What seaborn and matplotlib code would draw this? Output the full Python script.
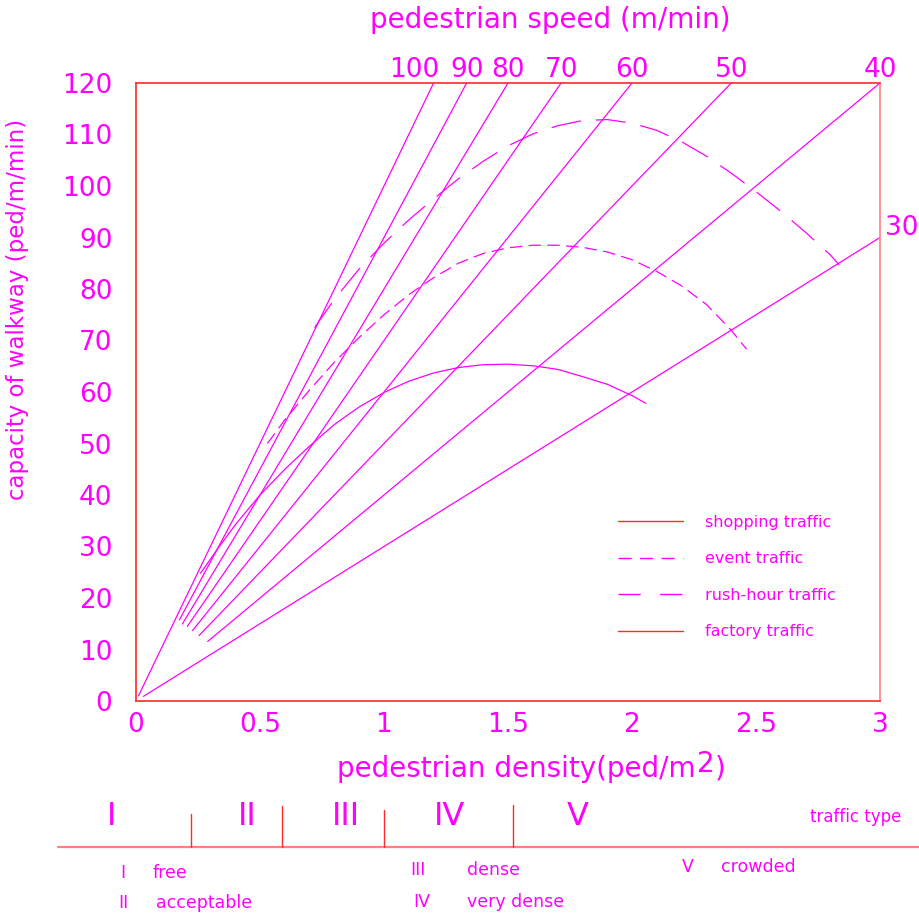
"""
Walkway capacity vs pedestrian density, with speed rays and traffic-type bands.
"""

import matplotlib
matplotlib.use("Agg")
import matplotlib.pyplot as plt
import pandas as pd
import seaborn as sns
from matplotlib.lines import Line2D

# ── Data ────────────────────────────────────────────────────────────────────
SPEEDS      = [100, 90, 80, 70, 60, 50, 40, 30]            # m/min
SPEED_START = [0.01, 0.175, 0.187, 0.207, 0.228, 0.254, 0.289, 0.03]  # ped/m2

SHOP_DENS = [0.26, 0.336, 0.4, 0.5, 0.6, 0.7, 0.8, 0.9, 1.0, 1.1, 1.2, 1.3,
             1.4, 1.5, 1.6, 1.7, 1.8, 1.9, 2.0, 2.056]
SHOP_CAP  = [24.8, 30.0, 34.2, 40.0, 45.0, 49.5, 53.7, 57.1, 59.9, 62.1, 63.7,
             64.75, 65.3, 65.4, 65.1, 64.4, 63.0, 61.5, 59.3, 57.8]

EVENT_DENS = [0.53, 0.6, 0.7, 0.8, 0.9, 1.0, 1.1, 1.2, 1.3, 1.4, 1.5, 1.6,
              1.7, 1.8, 1.9, 2.0, 2.1, 2.2, 2.3, 2.4, 2.462]
EVENT_CAP  = [50.0, 54.6, 60.4, 65.8, 70.6, 75.0, 78.9, 82.2, 85.0, 86.9,
              88.0, 88.5, 88.5, 88.1, 87.2, 85.7, 83.4, 80.6, 77.0, 72.0, 68.3]

RUSH_DENS = [0.72, 0.8, 0.9, 1.0, 1.1, 1.2, 1.3, 1.4, 1.5, 1.6, 1.7, 1.8,
             1.9, 2.0, 2.1, 2.2, 2.3, 2.4, 2.5, 2.6, 2.7, 2.8, 2.835]
RUSH_CAP  = [72.5, 78.0, 83.9, 88.9, 93.4, 97.5, 101.4, 104.8, 107.8, 110.1,
             111.7, 112.7, 112.9, 112.2, 110.8, 108.6, 105.8, 102.5, 98.9,
             95.1, 91.0, 86.6, 84.7]

LEGEND_LABELS = ["shopping traffic", "event traffic", "rush-hour traffic", "factory traffic"]

CLASS_BOUNDS = [0.22, 0.59, 1.0, 1.52]                     # ped/m2
CLASS_NAMES  = ["I", "II", "III", "IV", "V"]
CLASS_DESC   = ["free", "acceptable", "dense", "very dense", "crowded"]

# ── Style ───────────────────────────────────────────────────────────────────
MAGENTA = "#FF00FF"
RED     = "#FF2A2A"
SALMON  = "#FF8080"
W, H    = 920, 917

sns.set_style("white")
plt.rcParams["font.family"] = ["DejaVu Sans"]

fig = plt.figure(figsize=(W / 100, H / 100), dpi=100)
ax = fig.add_axes([136 / W, 1 - 701 / H, 744 / W, 618 / H])

# speed rays: capacity = speed * density, up to the frame
rows = []
for v, d0 in zip(SPEEDS, SPEED_START):
    d1 = min(120 / v, 3)
    for d in (d0, d1):
        rows.append({"speed": v, "density": d, "capacity": v * d})
rays = pd.DataFrame(rows)
sns.lineplot(data=rays, x="density", y="capacity", units="speed",
             estimator=None, sort=False, color=MAGENTA, lw=0.9, ax=ax)

shop  = pd.DataFrame({"density": SHOP_DENS, "capacity": SHOP_CAP})
event = pd.DataFrame({"density": EVENT_DENS, "capacity": EVENT_CAP})
rush  = pd.DataFrame({"density": RUSH_DENS, "capacity": RUSH_CAP})
sns.lineplot(data=shop, x="density", y="capacity", sort=False,
             color=MAGENTA, lw=0.9, ax=ax)
sns.lineplot(data=event, x="density", y="capacity", sort=False,
             color=MAGENTA, lw=0.9, ls=(0, (10, 5)), ax=ax)
sns.lineplot(data=rush, x="density", y="capacity", sort=False,
             color=MAGENTA, lw=0.9, ls=(0, (24, 12)), ax=ax)

ax.set_xlim(0, 3)
ax.set_ylim(0, 120)
ax.set_xticks([0, 0.5, 1, 1.5, 2, 2.5, 3])
ax.set_xticklabels(["0", "0.5", "1", "1.5", "2", "2.5", "3"])
ax.set_yticks(range(0, 121, 10))
ax.tick_params(axis="both", direction="in", length=6, width=1, color=RED,
               labelcolor=MAGENTA, labelsize=19)
ax.tick_params(axis="y", pad=17)
ax.tick_params(axis="x", pad=8)
for side in ("left", "bottom", "top"):
    ax.spines[side].set_color(RED)
ax.spines["right"].set_color(SALMON)
for sp in ax.spines.values():
    sp.set_linewidth(1.2)

ax.set_xlabel("")
ax.set_ylabel("capacity of walkway (ped/m/min)", color=MAGENTA, fontsize=16.5)
ax.yaxis.set_label_coords(-0.144, 0.634)

# speed labels at the ends of the rays
for v in SPEEDS:
    d1 = min(120 / v, 3)
    if v == 30:
        off, ha, va = (3.5, 7), "left", "center"
    elif v == 100:
        off, ha, va = (-14, 4.5), "center", "baseline"
    else:
        off, ha, va = (0, 4.5), "center", "baseline"
    ax.annotate(str(v), xy=(d1, v * d1), xytext=off, textcoords="offset points",
                ha=ha, va=va, color=MAGENTA, fontsize=19, annotation_clip=False)

fig.text(550 / W, 1 - 20 / H, "pedestrian speed (m/min)", color=MAGENTA,
         fontsize=20, ha="center", va="center")

# x label with a raised 2
fig.canvas.draw()
renderer = fig.canvas.get_renderer()
base = 1 - 777 / H
t1 = fig.text(337 / W, base, "pedestrian density(ped/m", color=MAGENTA,
              fontsize=20, va="baseline")
x1 = t1.get_window_extent(renderer).x1 / W
t2 = fig.text(x1 + 1 / W, base + 5 / H, "2", color=MAGENTA, fontsize=20, va="baseline")
x2 = t2.get_window_extent(renderer).x1 / W
fig.text(x2 + 1 / W, base, ")", color=MAGENTA, fontsize=20, va="baseline")

# legend
handles = [
    Line2D([], [], color=RED, lw=1),
    Line2D([], [], color=MAGENTA, lw=1, ls=(0, (9.5, 6))),
    Line2D([], [], color=MAGENTA, lw=1, ls=(0, (16, 14))),
    Line2D([], [], color=RED, lw=1),
]
ax.legend(handles, LEGEND_LABELS, loc="upper left", bbox_to_anchor=(0.639, 0.312),
          frameon=False, fontsize=11.5, labelcolor=MAGENTA, handlelength=4.1,
          handletextpad=1.35, labelspacing=1.35, borderaxespad=0)

# ── Traffic-type band below the chart (pixel rows, density columns) ─────────
bx = fig.add_axes([136 / W, 0, 744 / W, 130 / H])
bx.set_xlim(0, 3)
bx.set_ylim(917, 787)
bx.axis("off")
bx.plot([-0.315, 3.17], [847, 847], color=SALMON, lw=1.6, clip_on=False)
tick_tops = [814, 806, 810, 805]
for b, top in zip(CLASS_BOUNDS, tick_tops):
    bx.plot([b, b], [847, top], color=RED, lw=1, clip_on=False)

name_x = [-0.097, 0.448, 0.847, 1.266, 1.782]
for name, x in zip(CLASS_NAMES, name_x):
    bx.text(x, 817, name, color=MAGENTA, fontsize=23, ha="center", va="center",
            clip_on=False)
bx.text(2.9, 817, "traffic type", color=MAGENTA, fontsize=12, ha="center",
        va="center", clip_on=False)

desc_pos = [(-0.065, 0.069, 873), (-0.073, 0.081, 903), (1.105, 1.335, 870),
            (1.117, 1.335, 902), (2.202, 2.359, 867)]
for name, desc, (xn, xd, y) in zip(CLASS_NAMES, CLASS_DESC, desc_pos):
    bx.text(xn, y, name, color=MAGENTA, fontsize=12.5, ha="left", va="center",
            clip_on=False)
    bx.text(xd, y, desc, color=MAGENTA, fontsize=12.5, ha="left", va="center",
            clip_on=False)

fig.savefig("out.png", dpi=100)
